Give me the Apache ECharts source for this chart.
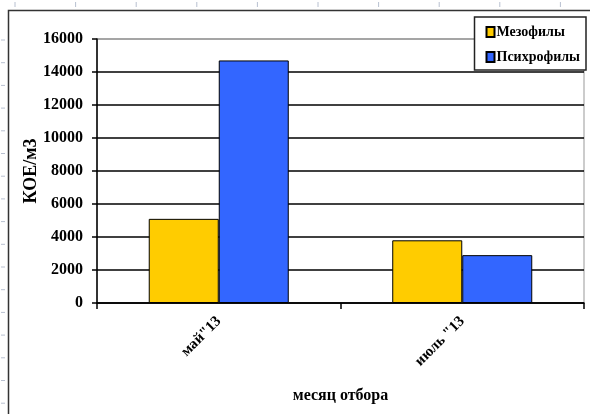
<!DOCTYPE html>
<html><head><meta charset="utf-8">
<script src="https://cdn.jsdelivr.net/npm/echarts@6/dist/echarts.min.js"></script>
<style>html,body{margin:0;padding:0;background:#fff}#c{width:590px;height:414px}</style>
</head><body><div id="c"></div>
<script>
const categories = ['май"13', 'июль "13'];
const mesophiles = [5100, 3800];
const psychrophiles = [14700, 2900];
const yTicks = [0, 2000, 4000, 6000, 8000, 10000, 12000, 14000, 16000];
const seriesNames = ['Мезофилы', 'Психрофилы'];

const font = '"Liberation Serif", "Times New Roman", serif';
const chart = echarts.init(document.getElementById('c'), null, {renderer: 'canvas'});

const rulerTop = [], rulerLeft = [];
for (let x = 15; x < 590; x += 60.6) rulerTop.push({type:'line', shape:{x1:x,y1:2,x2:x,y2:7}, style:{stroke:'#b8c0d0', lineWidth:1}});
for (let y = 40; y < 414; y += 22.7) rulerLeft.push({type:'line', shape:{x1:1,y1:y,x2:5,y2:y}, style:{stroke:'#b8c0d0', lineWidth:1}});

chart.setOption({
  animation: false,
  backgroundColor: '#fff',
  graphic: [
    {type:'polyline', shape:{points:[[8.5,414],[8.5,10.5],[590,10.5]]}, style:{stroke:'#333', lineWidth:1.5, fill:null}, z:-1},
    ...rulerTop, ...rulerLeft
  ],
  grid: {left: 97, right: 6, top: 39, bottom: 111, show: true, borderColor: '#999', borderWidth: 1},
  legend: {
    orient: 'vertical', right: 4, top: 17,
    data: seriesNames,
    icon: 'rect', itemWidth: 8, itemHeight: 10, itemGap: 11,
    backgroundColor: '#fff', borderColor: '#222', borderWidth: 1.5, borderRadius: 0,
    padding: [8, 6, 6, 11],
    textStyle: {fontFamily: font, fontWeight: 'bold', fontSize: 14, color: '#000', padding:[0,0,0,-3]}
  },
  xAxis: {
    type: 'category', data: categories,
    name: 'месяц отбора', nameLocation: 'middle', nameGap: 85, nameMoveOverlap: false,
    nameTextStyle: {fontFamily: font, fontWeight: 'bold', fontSize: 16, color: '#000'},
    axisLine: {show: true, lineStyle: {color: '#000', width: 1.5}},
    axisTick: {show: true, alignWithLabel: false, length: 6, lineStyle: {color: '#000', width: 1.5}},
    axisLabel: {rotate: 45, margin: 16, fontFamily: font, fontWeight: 'bold', fontSize: 15, color: '#000'}
  },
  yAxis: {
    type: 'value', min: yTicks[0], max: yTicks[yTicks.length-1], interval: 2000,
    name: 'КОЕ/м3', nameLocation: 'middle', nameGap: 57, nameRotate: 90, nameMoveOverlap: false,
    nameTextStyle: {fontFamily: font, fontWeight: 'bold', fontSize: 18, color: '#000'},
    axisLine: {show: true, lineStyle: {color: '#000', width: 1.5}},
    axisTick: {show: true, length: 5, lineStyle: {color: '#000', width: 1.5}},
    axisLabel: {margin: 14, fontFamily: font, fontWeight: 'bold', fontSize: 16, color: '#000', formatter: v => String(v)},
    splitLine: {show: true, lineStyle: {color: ['#000','#000','#000','#000','#000','#000','#000','#000','#999'], width: 1.5}}
  },
  series: [
    {name: seriesNames[0], type: 'bar', data: mesophiles, barGap: '0%', barCategoryGap: '42.5%',
     itemStyle: {color: '#ffcc00', borderColor: '#000', borderWidth: 1}},
    {name: seriesNames[1], type: 'bar', data: psychrophiles,
     itemStyle: {color: '#3366ff', borderColor: '#000', borderWidth: 1}}
  ]
});
</script></body></html>
